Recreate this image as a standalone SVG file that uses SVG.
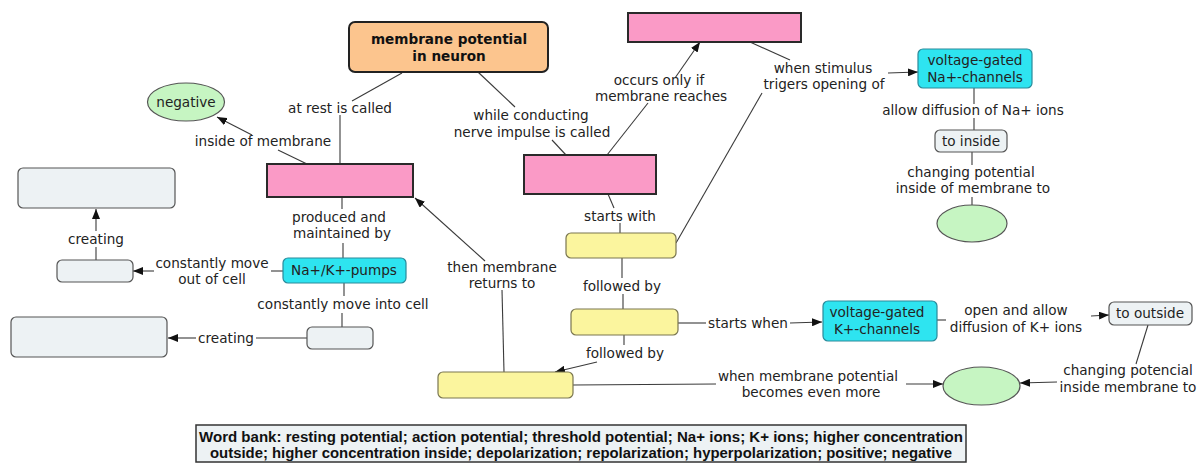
<svg xmlns="http://www.w3.org/2000/svg" width="1198" height="468" viewBox="0 0 1198 468">
<defs>
<marker id="arr" markerWidth="10" markerHeight="8" refX="10" refY="4" orient="auto" markerUnits="userSpaceOnUse">
<path d="M0,0 L10,4 L0,8 Z" fill="#111"/>
</marker>
<style>
text{font-family:"DejaVu Sans",Verdana,sans-serif;font-size:13.6px;fill:#222;text-anchor:middle}
.b{font-weight:bold;fill:#111}
.wb{font-family:"Liberation Sans Narrow","Liberation Sans",Arial,sans-serif;font-weight:bold;font-size:14px;fill:#111}
.pink{fill:#FA9AC6;stroke:#2a2a2a;stroke-width:2}
.yel{fill:#FBF59E;stroke:#7a7650;stroke-width:1.2}
.cyan{fill:#2EE4F0;stroke:#2a8a9a;stroke-width:1.2}
.gray{fill:#EDF2F4;stroke:#555;stroke-width:1.2}
.grn{fill:#C6F5C2;stroke:#555;stroke-width:1.2}
.org{fill:#FCC58E;stroke:#222;stroke-width:2}
#connectors line{stroke:#3a3a3a;stroke-width:1.1}
#connectors line.a{marker-end:url(#arr)}
</style>
</defs>
<rect width="1198" height="468" fill="#fff"/>
<g id="connectors">
<line x1="402" y1="73" x2="352" y2="101"/>
<line x1="340" y1="115" x2="340" y2="164"/>
<line x1="307" y1="164" x2="278" y2="150"/>
<line class="a" x1="252" y1="135" x2="217" y2="117"/>
<line x1="478" y1="72" x2="515" y2="107"/>
<line x1="552" y1="140" x2="566" y2="155"/>
<line x1="607" y1="155" x2="648" y2="103"/>
<line class="a" x1="675" y1="78" x2="700" y2="42"/>
<line x1="750" y1="42" x2="790" y2="60"/>
<line class="a" x1="888" y1="73" x2="918" y2="72"/>
<line x1="762" y1="93" x2="676" y2="243"/>
<line x1="974" y1="88" x2="974" y2="104"/>
<line x1="974" y1="118" x2="974" y2="130"/>
<line x1="972" y1="152" x2="972" y2="165"/>
<line x1="972" y1="197" x2="972" y2="205"/>
<line x1="342" y1="197" x2="342" y2="209"/>
<line x1="343" y1="243" x2="343" y2="258"/>
<line x1="283" y1="271" x2="271" y2="271"/>
<line class="a" x1="154" y1="271" x2="133" y2="271"/>
<line x1="96" y1="260" x2="96" y2="247"/>
<line class="a" x1="96" y1="231" x2="96" y2="209"/>
<line x1="344" y1="283" x2="344" y2="296"/>
<line x1="342" y1="313" x2="342" y2="327"/>
<line x1="307" y1="338" x2="256" y2="338"/>
<line class="a" x1="196" y1="338" x2="168" y2="338"/>
<line x1="608" y1="194" x2="614" y2="208"/>
<line x1="620" y1="223" x2="620" y2="233"/>
<line x1="622" y1="258" x2="622" y2="278"/>
<line x1="623" y1="294" x2="623" y2="309"/>
<line x1="678" y1="323" x2="706" y2="323"/>
<line class="a" x1="790" y1="323" x2="822" y2="322"/>
<line x1="624" y1="335" x2="624" y2="345"/>
<line class="a" x1="597" y1="362" x2="555" y2="372"/>
<line x1="504" y1="372" x2="502" y2="290"/>
<line class="a" x1="485" y1="261" x2="415" y2="198"/>
<line x1="573" y1="385" x2="716" y2="384"/>
<line class="a" x1="906" y1="384" x2="943" y2="384"/>
<line x1="937" y1="320" x2="946" y2="320"/>
<line class="a" x1="1091" y1="316" x2="1109" y2="315"/>
<line x1="1148" y1="325" x2="1136" y2="364"/>
<line class="a" x1="1057" y1="382" x2="1020" y2="383"/>
</g>
<g id="labels">
<text x="340" y="113">at rest is called</text>
<text x="263" y="146">inside of membrane</text>
<text x="531" y="120">while conducting</text>
<text x="532" y="137">nerve impulse is called</text>
<text x="659" y="85">occurs only if</text>
<text x="661" y="101">membrane reaches</text>
<text x="823" y="73">when stimulus</text>
<text x="824" y="89">trigers opening of</text>
<text x="973" y="115">allow diffusion of Na+ ions</text>
<text x="971" y="177">changing potential</text>
<text x="973" y="193">inside of membrane to</text>
<text x="339" y="222">produced and</text>
<text x="342" y="238">maintained by</text>
<text x="96" y="244">creating</text>
<text x="212" y="268">constantly move</text>
<text x="212" y="284">out of cell</text>
<text x="343" y="309">constantly move into cell</text>
<text x="226" y="343">creating</text>
<text x="620" y="221">starts with</text>
<text x="622" y="291">followed by</text>
<text x="748" y="328">starts when</text>
<text x="625" y="358">followed by</text>
<text x="502" y="272">then membrane</text>
<text x="502" y="288">returns to</text>
<text x="1016" y="315">open and allow</text>
<text x="1016" y="332">diffusion of K+ ions</text>
<text x="808" y="381">when membrane potential</text>
<text x="811" y="397">becomes even more</text>
<text x="1128" y="375">changing potencial</text>
<text x="1128" y="392">inside membrane to</text>
</g>
<g id="n-main"><rect class="org" x="349" y="22" width="199" height="50" rx="6"/><text class="b" x="449" y="44">membrane potential</text><text class="b" x="449" y="61">in neuron</text></g>
<g id="n-negative"><ellipse class="grn" cx="186" cy="102" rx="38.5" ry="19"/><text x="186" y="107">negative</text></g>
<g id="n-resting"><rect class="pink" x="267" y="164" width="146" height="33"/></g>
<g id="n-threshold"><rect class="pink" x="628" y="13" width="173" height="29"/></g>
<g id="n-action"><rect class="pink" x="524" y="155" width="132" height="39"/></g>
<g id="n-na-channels"><rect class="cyan" x="918" y="49" width="114" height="39" rx="5"/><text x="975" y="65">voltage-gated</text><text x="975" y="82">Na+-channels</text></g>
<g id="n-to-inside"><rect class="gray" x="935" y="130" width="72" height="22" rx="5"/><text x="971" y="146">to inside</text></g>
<g id="n-positive"><ellipse class="grn" cx="972" cy="223.5" rx="35" ry="18.5"/></g>
<g id="n-box-top-left"><rect class="gray" x="18" y="168" width="157" height="40" rx="5"/></g>
<g id="n-small1"><rect class="gray" x="57" y="260" width="76" height="22" rx="5"/></g>
<g id="n-pumps"><rect class="cyan" x="283" y="258" width="123" height="25" rx="5"/><text x="344" y="275">Na+/K+-pumps</text></g>
<g id="n-small2"><rect class="gray" x="307" y="327" width="66" height="22" rx="5"/></g>
<g id="n-box-bottom-left"><rect class="gray" x="11" y="317" width="156" height="40" rx="5"/></g>
<g id="n-depol"><rect class="yel" x="566" y="233" width="110" height="25" rx="5"/></g>
<g id="n-repol"><rect class="yel" x="571" y="309" width="107" height="26" rx="5"/></g>
<g id="n-hyper"><rect class="yel" x="438" y="372" width="135" height="26" rx="5"/></g>
<g id="n-k-channels"><rect class="cyan" x="823" y="301" width="114" height="40" rx="5"/><text x="877" y="317">voltage-gated</text><text x="877" y="334">K+-channels</text></g>
<g id="n-to-outside"><rect class="gray" x="1109" y="302" width="83" height="23" rx="5"/><text x="1150" y="318">to outside</text></g>
<g id="n-negative2"><ellipse class="grn" cx="981.5" cy="386" rx="38.5" ry="19"/></g>
<g id="word-bank"><rect x="196" y="425" width="770" height="37" fill="#EDF2F4" stroke="#333" stroke-width="1.5"/>
<text class="wb" x="581" y="442" textLength="764" lengthAdjust="spacingAndGlyphs">Word bank: resting potential; action potential; threshold potential; Na+ ions; K+ ions; higher concentration</text>
<text class="wb" x="581" y="458" textLength="742" lengthAdjust="spacingAndGlyphs">outside; higher concentration inside; depolarization; repolarization; hyperpolarization; positive; negative</text>
</g>
</svg>
